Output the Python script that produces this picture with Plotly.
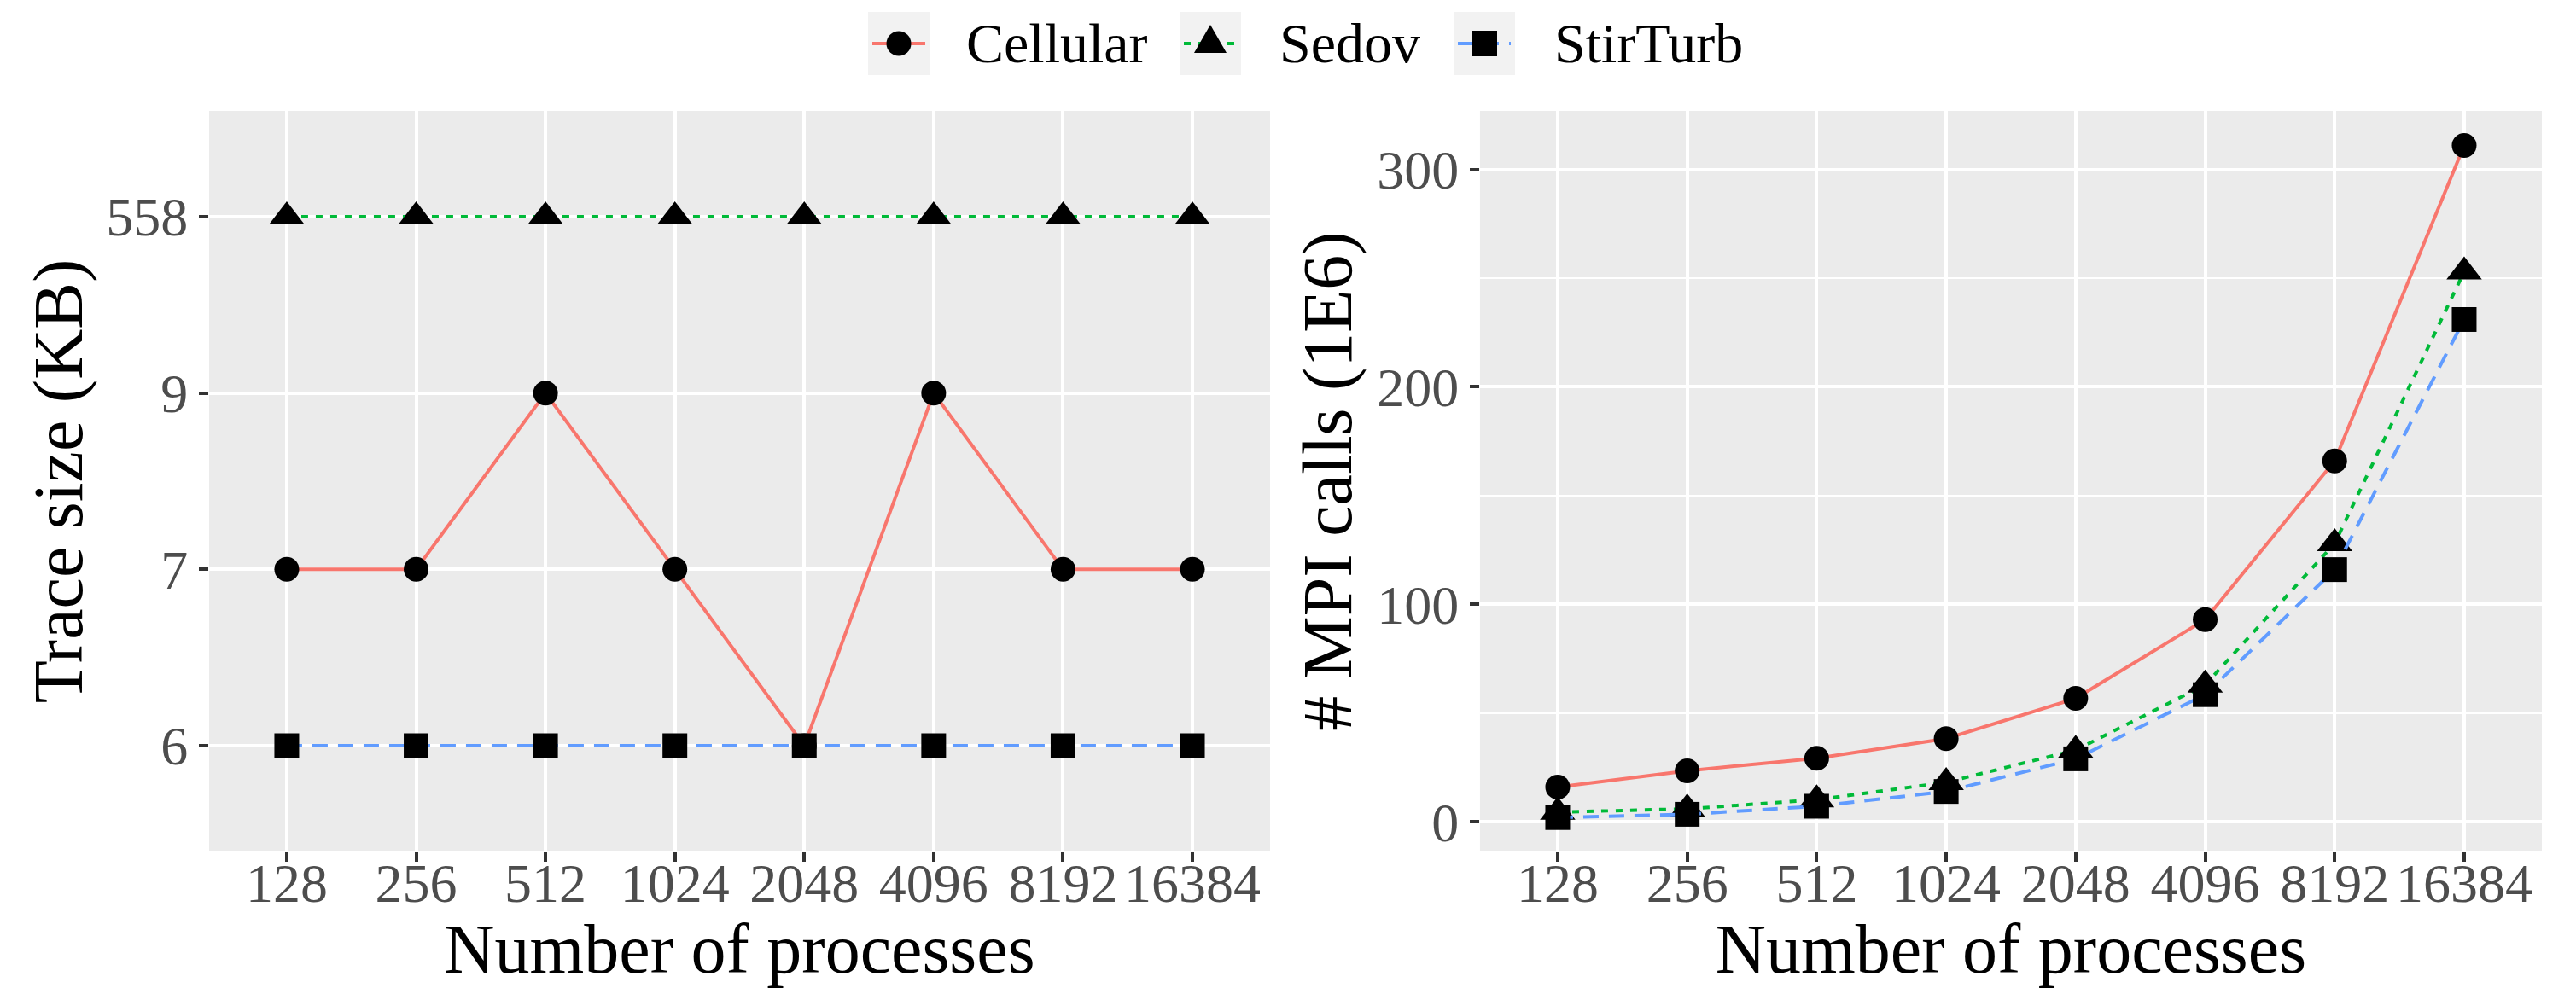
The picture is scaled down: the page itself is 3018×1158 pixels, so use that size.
import plotly.graph_objects as go

procs = ["128", "256", "512", "1024", "2048", "4096", "8192", "16384"]
series = ["Cellular", "Sedov", "StirTurb"]

# Left panel: trace size (KB), discrete levels
size_levels = ["6", "7", "9", "558"]
size_cellular = ["7", "7", "9", "7", "6", "9", "7", "7"]
size_sedov = ["558", "558", "558", "558", "558", "558", "558", "558"]
size_stirturb = ["6", "6", "6", "6", "6", "6", "6", "6"]

# Right panel: number of MPI calls (1E6)
mpi_cellular = [16.0, 23.5, 29.3, 38.3, 56.8, 93.0, 166.0, 311.0]
mpi_sedov = [4.5, 6.0, 10.2, 18.2, 33.0, 63.0, 128.0, 253.0]
mpi_stirturb = [2.0, 3.5, 7.2, 14.0, 29.0, 58.5, 116.0, 231.0]
mpi_ticks = [0, 100, 200, 300]

colors = {"Cellular": "#F8766D", "Sedov": "#00BA38", "StirTurb": "#619CFF"}
dashes = {"Cellular": "solid", "Sedov": "8px,9px", "StirTurb": "18px,12px"}
symbols = {"Cellular": "circle", "Sedov": "triangle-up", "StirTurb": "square"}
msizes = {"Cellular": 29, "Sedov": 36, "StirTurb": 29}

left_data = {"Cellular": size_cellular, "Sedov": size_sedov, "StirTurb": size_stirturb}
right_data = {"Cellular": mpi_cellular, "Sedov": mpi_sedov, "StirTurb": mpi_stirturb}

FONT = "Liberation Serif"
fig = go.Figure()

for s in series:
    fig.add_trace(go.Scatter(
        x=procs, y=left_data[s], name=s, mode="lines+markers",
        line=dict(color=colors[s], width=4, dash=dashes[s]),
        marker=dict(symbol=symbols[s], size=msizes[s], color="black"),
        xaxis="x", yaxis="y", showlegend=False,
    ))
for s in series:
    fig.add_trace(go.Scatter(
        x=procs, y=right_data[s], name=s, mode="lines+markers",
        line=dict(color=colors[s], width=4, dash=dashes[s]),
        marker=dict(symbol=symbols[s], size=msizes[s], color="black"),
        xaxis="x2", yaxis="y2", showlegend=False,
    ))

axis_common = dict(
    showgrid=True, gridcolor="white", gridwidth=3.5,
    ticks="outside", ticklen=11, tickwidth=4, tickcolor="#333333",
    tickfont=dict(family=FONT, size=64, color="#4D4D4D"),
    showline=False, zeroline=False, automargin=False,
)
xtick_extra = dict(ticklabelstandoff=-30)

W, H = 3018, 1158
ml, mr, mt, mb = 245, 40, 130, 160
PW, PH = W - ml - mr, H - mt - mb


def px_to_paper_x(px):
    return (px - ml) / PW


def px_to_paper_y(py):
    return (H - mb - py) / PH


title_font = dict(family=FONT, size=82, color="black")

# ---- manual legend (ggplot style keys with grey background) ----
legend_key_cx = [1053, 1418, 1739]
legend_text_x = [1130, 1497, 1819]
legend_cy = 51
key_half = 36

shapes = []
annotations = []
for i, s in enumerate(series):
    ax = px_to_paper_x(legend_key_cx[i])
    ay = px_to_paper_y(legend_cy)
    common = dict(xref="paper", yref="paper", xsizemode="pixel", ysizemode="pixel",
                  xanchor=ax, yanchor=ay, layer="above")
    shapes.append(dict(type="rect", x0=-key_half, x1=key_half, y0=-37, y1=37,
                       fillcolor="#F2F2F2", line=dict(width=0), **common))
    shapes.append(dict(type="line", x0=-31, x1=31, y0=0, y1=0,
                       line=dict(color=colors[s], width=4, dash=dashes[s]), **common))
    if symbols[s] == "circle":
        shapes.append(dict(type="circle", x0=-14.5, x1=14.5, y0=-14.5, y1=14.5,
                           fillcolor="black", line=dict(width=0), **common))
    elif symbols[s] == "square":
        shapes.append(dict(type="rect", x0=-15, x1=15, y0=-15, y1=15,
                           fillcolor="black", line=dict(width=0), **common))
    else:
        shapes.append(dict(type="path", path="M -19,-11 L 19,-11 L 0,22 Z",
                           fillcolor="black", line=dict(width=0), **common))
    annotations.append(dict(text=s, xref="paper", yref="paper",
                            x=px_to_paper_x(legend_text_x[i]), y=px_to_paper_y(legend_cy),
                            xanchor="left", yanchor="middle", showarrow=False,
                            font=dict(family=FONT, size=66, color="black")))

fig.update_layout(
    width=W, height=H,
    margin=dict(l=ml, r=mr, t=mt, b=mb),
    paper_bgcolor="white", plot_bgcolor="#EBEBEB",
    font=dict(family=FONT, color="black"),
    xaxis=dict(domain=[0, 0.4548], type="category", categoryorder="array",
               categoryarray=procs, range=[-0.6, 7.6],
               title=dict(text="Number of processes", font=title_font, standoff=10),
               anchor="y", **axis_common, **xtick_extra),
    yaxis=dict(type="category", categoryorder="array", categoryarray=size_levels,
               range=[-0.6, 3.6],
               title=dict(text="Trace size (KB)", font=title_font, standoff=0),
               anchor="x", **axis_common),
    xaxis2=dict(domain=[0.5448, 1], type="category", categoryorder="array",
                categoryarray=procs, range=[-0.6, 7.6],
                title=dict(text="Number of processes", font=title_font, standoff=10),
                anchor="y2", **axis_common, **xtick_extra),
    yaxis2=dict(range=[-13.6, 326.9], tickvals=mpi_ticks,
                title=dict(text="# MPI calls (1E6)", font=title_font, standoff=2),
                minor=dict(tick0=50, dtick=100, showgrid=True, gridcolor="white", gridwidth=2, ticks=""),
                anchor="x2", **axis_common),
    showlegend=False,
    shapes=shapes,
    annotations=annotations,
)

fig.write_html("out.html", config={"displayModeBar": False},
               post_script="document.body.style.margin='0px';")
